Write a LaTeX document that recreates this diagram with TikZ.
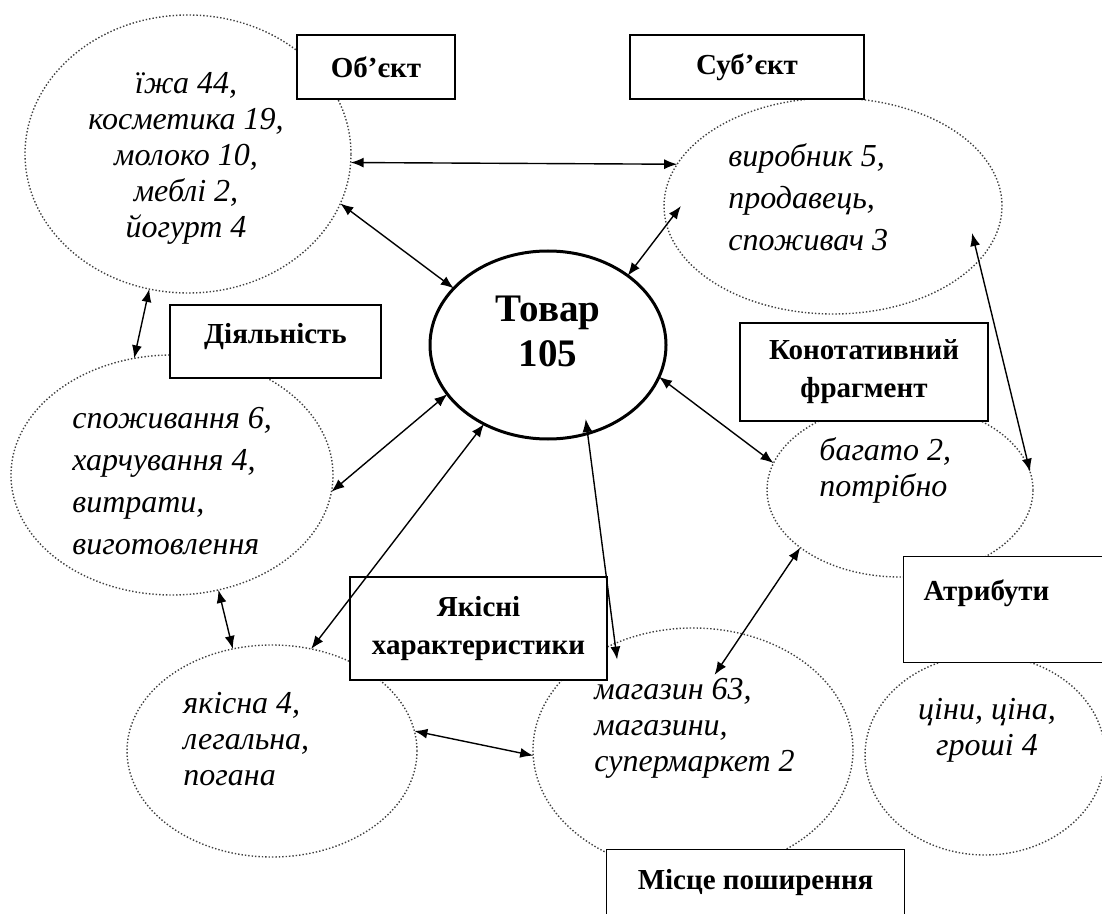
\documentclass[tikz,border=0pt]{standalone}
\usepackage{fontspec}
\setmainfont{Liberation Serif}
\usetikzlibrary{arrows.meta,calc,shapes.geometric}

\begin{document}
\begin{tikzpicture}[
        x=0.5pt, y=-0.5pt,
        field/.style={ellipse, draw=black!75, densely dotted, line width=0.7pt, inner sep=0pt, outer sep=0pt},
        core/.style={ellipse, draw, line width=1.5pt, inner sep=0pt, outer sep=0pt},
        headline/.style={font=\fontsize{19.5}{22.5}\selectfont\bfseries, align=center, inner sep=0pt},
        frame/.style={draw, fill=white, line width=0.6pt, font=\fontsize{14.5}{19}\selectfont\bfseries, align=center},
        words/.style={font=\fontsize{16}{18}\selectfont\itshape, inner sep=0pt},
        wordswide/.style={font=\fontsize{16}{21}\selectfont\itshape, inner sep=0pt},
        link/.style={{Latex[length=6.5pt,width=5pt]}-{Latex[length=6.5pt,width=5pt]}, line width=0.7pt}
    ]
        \useasboundingbox (0,0) rectangle (1102,914);

        % fields
        \node[field, minimum width=163pt, minimum height=139pt] (obj) at (188,154) {};
        \node[field, minimum width=169pt, minimum height=108pt] (sub) at (833,206) {};
        \node[field, minimum width=161pt, minimum height=120pt] (act) at (172,475) {};
        \node[field, minimum width=133pt, minimum height=87pt] (kon) at (900,490) {};
        \node[field, minimum width=145pt, minimum height=106pt] (qual) at (272,751) {};
        \node[field, minimum width=160pt, minimum height=122pt] (shop) at (693,750) {};
        \node[field, minimum width=120pt, minimum height=100pt] (price) at (985,755) {};

        \node[core, minimum width=118pt, minimum height=94pt] (tov) at (548,345) {};
        \node[headline] (tovtxt) at (548,331) {Товар\\105};

        % labels
        \node[frame, minimum width=79pt, minimum height=32pt] (objbox) at (376,67) {Об’єкт};
        \node[frame, minimum width=117pt, minimum height=32pt] (subbox) at (747,67) {Суб’єкт};
        \node[frame, minimum width=105.5pt, minimum height=36.5pt, text depth=8pt] (actbox) at (275.5,341.5) {Діяльність};
        \node[frame, minimum width=124pt, minimum height=49pt] (konbox) at (864,372) {Конотативний\\фрагмент};
        \node[frame, anchor=north west, inner xsep=10pt, text width=83.5pt, align=left, minimum height=53pt] (attrbox) at (903,556) {Атрибути\\\mbox{}};
        \node[frame, minimum width=128.5pt, minimum height=51.5pt] (qualbox) at (478.5,628.5) {Якісні\\характеристики};
        \node[frame, anchor=north west, minimum width=149pt, minimum height=49pt] (placebox) at (606,849) {Місце поширення\\\mbox{}};

        % contents
        \node[words, align=center] (objtxt) at (186,158) {їжа 44,\\косметика 19,\\молоко 10,\\меблі 2,\\йогурт 4};
        \node[wordswide, align=left, anchor=west] (subtxt) at (728,197) {виробник 5,\\продавець,\\споживач 3};
        \node[wordswide, align=left, anchor=west] (acttxt) at (72,481) {споживання 6,\\харчування 4,\\витрати,\\виготовлення};
        \node[words, align=left, anchor=west] (kontxt) at (819,470) {багато 2,\\потрібно};
        \node[words, align=left, anchor=west] (qualtxt) at (183,739) {якісна 4,\\легальна,\\погана};
        \node[words, align=left, anchor=west] (shoptxt) at (594,728) {магазин 63,\\магазини,\\супермаркет 2};
        \node[words, align=center] (pricetxt) at (987,730) {ціни, ціна,\\гроші 4};

        \draw[link] (obj.357) -- (sub.165);
        \draw[link] (obj.342) -- (tov.149);
        \draw[link] (tov.41) -- ($(sub.center)!.9!(sub.180)$);
        \draw[link] ($(sub.center)!.86!(sub.349)$) -- (kon.8);
        \draw[link] (obj.254) -- (act.108);
        \draw[link] (tov.344) -- (kon.168);
        \draw[link] (tov.206) -- (act.354);
        \draw[link] (tov.231) -- (qual.69);
        \draw[link] ($(tov.center)!.85!(tov.297)$) -- ($(shop.center)!.88!(shop.130)$);
        \draw[link] (kon.210) -- ($(shop.center)!.63!(shop.74)$);
        \draw[link] (act.292) -- (qual.111);
        \draw[link] (qual.8) -- (shop.182);
    \end{tikzpicture}
\end{document}
